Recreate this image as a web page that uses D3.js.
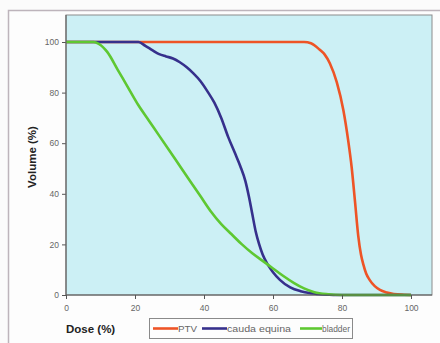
<!DOCTYPE html>
<html><head><meta charset="utf-8">
<script src="https://cdn.jsdelivr.net/npm/d3@7"></script>
<style>body{margin:0;background:#fbfbfb}svg{display:block}</style>
</head><body>
<svg id="c" width="440" height="343"></svg>
<script>
const seriesNames = ["PTV", "cauda equina", "bladder"];
const seriesColors = ["#ee5426", "#36308c", "#5ec832"];
const ptvDose = [0, 69, 71, 73.5, 75, 76.5, 78.5, 80.4, 81.8, 82.8, 83.8, 84.7, 85.5, 86.2, 87, 88, 89.5, 91, 93, 95, 98, 100];
const ptvVol  = [100, 100, 99.5, 97, 95, 91.5, 84, 73, 61, 50.5, 36.5, 23.5, 16, 12, 8.5, 6, 3.5, 2, 1, 0.4, 0.1, 0];
const caudaDose = [0, 21, 23, 25, 27, 29, 31, 33, 35, 37, 39, 41, 43, 45, 47, 49, 50.5, 52, 53, 54, 55, 56, 57, 58.5, 60, 62, 65, 68, 71, 75, 80, 100];
const caudaVol  = [100, 100, 98.5, 96.8, 95.2, 94.3, 93.5, 92, 90, 87.5, 84.5, 80.5, 76, 70, 62.5, 56, 51, 45, 39, 32, 25, 20, 16, 12, 9, 6, 3, 1.5, 0.7, 0.2, 0, 0];
const bladderDose = [0, 8, 9.5, 12, 15, 18, 21, 24, 27, 30, 33, 36, 39, 42, 45, 48, 51, 54, 57, 60, 63, 66, 69, 72, 76, 80, 100];
const bladderVol  = [100, 100, 99.3, 96, 89, 82, 75, 69, 63, 57, 51, 45, 39, 33, 28, 24, 20, 16.5, 13.5, 10.5, 7.5, 4.8, 2.6, 1.1, 0.3, 0, 0];
const xTicks = [0, 20, 40, 60, 80, 100];
const yTicks = [0, 20, 40, 60, 80, 100];

const FONT = "Arial, 'Liberation Sans', sans-serif";
const svg = d3.select("#c");
svg.append("rect").attr("x", 8.5).attr("y", 10.5).attr("width", 440).attr("height", 340)
  .attr("fill", "#fdfdfd").attr("stroke", "#bdb4bb").attr("stroke-width", 1.5);

const L = 66, R = 432, T = 15, B = 295;
const x = d3.scaleLinear().domain([0, 100]).range([L, 411]);
const y = d3.scaleLinear().domain([0, 100]).range([B, 42]);

svg.append("rect").attr("x", L).attr("y", T).attr("width", R - L).attr("height", B - T)
  .attr("fill", "#ccf0f5").attr("stroke", "#8c8c8c").attr("stroke-width", 1);

const series = [[ptvDose, ptvVol], [caudaDose, caudaVol], [bladderDose, bladderVol]];
const line = d3.line().x(d => x(d[0])).y(d => y(d[1])).curve(d3.curveMonotoneX);
series.forEach((s, i) => {
  const pts = s[0].map((d, j) => [d, s[1][j]]);
  svg.append("path").datum(pts).attr("d", line).attr("fill", "none")
    .attr("stroke", seriesColors[i]).attr("stroke-width", 2.6).attr("stroke-linejoin", "round");
});

const xAxis = svg.append("g").attr("transform", `translate(0,${B})`)
  .call(d3.axisBottom(x).tickValues(xTicks).tickSize(4).tickPadding(6));
const yAxis = svg.append("g").attr("transform", `translate(${L},0)`)
  .call(d3.axisLeft(y).tickValues(yTicks).tickSize(4).tickPadding(3));
[xAxis, yAxis].forEach(a => {
  a.select(".domain").remove();
  a.selectAll("line").attr("stroke", "#555");
  a.selectAll("text").attr("fill", "#666").style("font-family", FONT).style("font-size", "8.5px");
});
svg.append("line").attr("x1", L).attr("x2", R).attr("y1", B).attr("y2", B).attr("stroke", "#555").attr("stroke-width", 1.2);
svg.append("line").attr("x1", L).attr("x2", L).attr("y1", T).attr("y2", B).attr("stroke", "#666").attr("stroke-width", 1.2);

svg.append("text").attr("x", 66).attr("y", 333).text("Dose (%)")
  .style("font-family", FONT).style("font-size", "11.5px").style("font-weight", "bold").attr("fill", "#222");
svg.append("text").attr("transform", "translate(36,157) rotate(-90)").attr("text-anchor", "middle").text("Volume (%)")
  .style("font-family", FONT).style("font-size", "11.5px").style("font-weight", "bold").attr("fill", "#222");

const lg = svg.append("g");
lg.append("rect").attr("x", 149.5).attr("y", 318.5).attr("width", 203).attr("height", 20)
  .attr("fill", "#fdfdfd").attr("stroke", "#8a8a8a");
const legX = [153, 202, 300];
const legW = [25, 25, 22];
const legTW = [19, 64, 28];
seriesNames.forEach((n, i) => {
  lg.append("line").attr("x1", legX[i]).attr("x2", legX[i] + legW[i]).attr("y1", 328.5).attr("y2", 328.5)
    .attr("stroke", seriesColors[i]).attr("stroke-width", 2.6);
  lg.append("text").attr("x", legX[i] + legW[i]).attr("y", 331.8).text(n)
    .attr("textLength", legTW[i]).attr("lengthAdjust", "spacingAndGlyphs")
    .style("font-family", FONT).style("font-size", "9px").attr("fill", "#666");
});
</script>
</body></html>
